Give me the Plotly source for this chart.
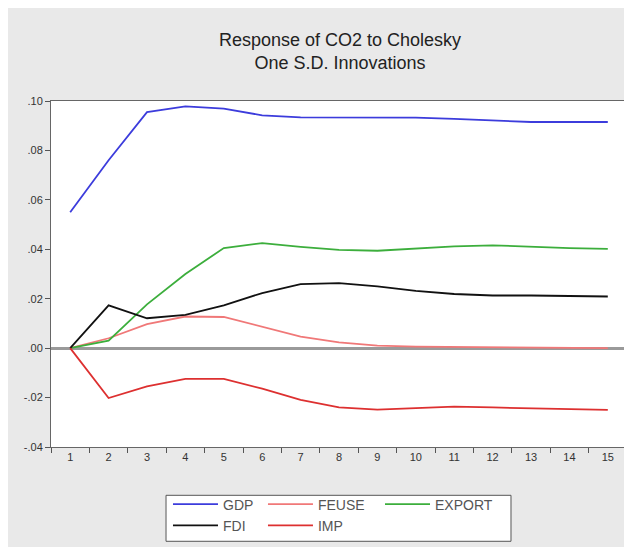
import plotly.graph_objects as go

periods = [str(i) for i in range(1, 16)]

gdp = [0.0550, 0.0760, 0.0955, 0.0978, 0.0969, 0.0942, 0.0934, 0.0934, 0.0934, 0.0933,
       0.0928, 0.0920, 0.0915, 0.0915, 0.0915]
feuse = [0.0, 0.0040, 0.0097, 0.0128, 0.0126, 0.0088, 0.0047, 0.0023, 0.0010, 0.0006,
         0.0005, 0.0004, 0.0001, 0.0000, 0.0000]
export = [0.0, 0.0030, 0.0177, 0.0300, 0.0405, 0.0425, 0.0410, 0.0398, 0.0394, 0.0402,
          0.0412, 0.0416, 0.0410, 0.0405, 0.0402]
fdi = [0.0, 0.0173, 0.0121, 0.0135, 0.0173, 0.0223, 0.0259, 0.0263, 0.0250, 0.0232,
       0.0219, 0.0213, 0.0213, 0.0212, 0.0209]
imp = [0.0, -0.0202, -0.0155, -0.0124, -0.0124, -0.0164, -0.0209, -0.0240, -0.0249,
       -0.0243, -0.0237, -0.0240, -0.0243, -0.0248, -0.0250]

series_names = ["GDP", "FEUSE", "EXPORT", "FDI", "IMP"]
series_vals = [gdp, feuse, export, fdi, imp]
series_colors = ["#3c3cdc", "#f07878", "#3cae3c", "#111111", "#dd3030"]
series_legend = ["legend", "legend2", "legend3", "legend", "legend2"]

ytick_vals = [0.10, 0.08, 0.06, 0.04, 0.02, 0.00, -0.02, -0.04]
ytick_text = [".10", ".08", ".06", ".04", ".02", ".00", "-.02", "-.04"]

fig = go.Figure()
for name, vals, col, lg in zip(series_names, series_vals, series_colors, series_legend):
    fig.add_trace(go.Scatter(x=periods, y=vals, name=name, mode="lines", legend=lg,
                             line=dict(color=col, width=1.8)))

font_family = "Liberation Sans, Arial, sans-serif"
legend_font = dict(family=font_family, size=14, color="#555555")

def col_legend(xpos):
    return dict(orientation="v", x=xpos, xanchor="left", y=-0.12, yanchor="top",
                bgcolor="rgba(0,0,0,0)", borderwidth=0, itemwidth=45,
                font=legend_font, tracegroupgap=0, traceorder="normal")

fig.update_layout(
    width=624, height=539,
    margin=dict(l=43, r=5, t=93, b=100, autoexpand=False),
    paper_bgcolor="#e9e9e9",
    plot_bgcolor="#ffffff",
    font=dict(family=font_family, size=11, color="#333333"),
    title=dict(text="Response of CO2 to Cholesky<br>One S.D. Innovations",
               x=0.532, xref="container", xanchor="center",
               y=0.930, yref="container", yanchor="middle",
               font=dict(family=font_family, size=18, color="#222222")),
    showlegend=True,
    legend=col_legend(0.2031),
    legend2=col_legend(0.368),
    legend3=col_legend(0.5712),
    shapes=[dict(type="rect", xref="paper", yref="paper",
                 x0=0.1997, x1=0.7986, y0=-0.2725, y1=-0.1396,
                 line=dict(color="#555555", width=1), fillcolor="#ffffff", layer="above")],
)

fig.update_xaxes(type="category", range=[-0.5, 14.5], tickson="boundaries",
                 ticks="outside", ticklen=5,
                 tickcolor="#555555", showline=True, linecolor="#666666", linewidth=1,
                 mirror=True, showgrid=False, zeroline=False,
                 tickfont=dict(size=11, color="#333333"))
fig.update_yaxes(range=[-0.04, 0.10], tickvals=ytick_vals, ticktext=ytick_text,
                 ticks="outside", ticklen=5, tickcolor="#555555",
                 showline=True, linecolor="#666666", linewidth=1, mirror=True,
                 showgrid=False, zeroline=True, zerolinecolor="#9a9a9a", zerolinewidth=2.5,
                 tickfont=dict(size=11, color="#333333"))

fig.write_html("out.html")
